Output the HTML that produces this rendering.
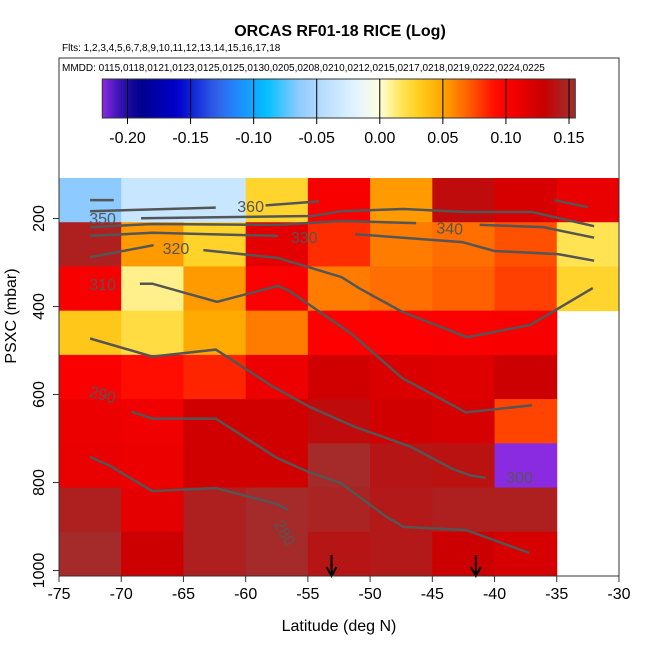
<!DOCTYPE html>
<html><head><meta charset="utf-8"><style>
body{margin:0;background:#fff;}
svg{display:block;font-family:"Liberation Sans",sans-serif;}
</style></head><body>
<svg id="chart" width="650" height="650" viewBox="0 0 650 650">
<defs><linearGradient id="cbgrad" x1="0" x2="1" y1="0" y2="0"></linearGradient></defs>
<text x="340" y="36" text-anchor="middle" font-size="16" font-weight="bold">ORCAS RF01-18 RICE (Log)</text>
<text x="62" y="51" font-size="10">Flts: 1,2,3,4,5,6,7,8,9,10,11,12,13,14,15,16,17,18</text>
<g id="cells"></g>
<g id="contours"></g>
<rect x="59" y="58" width="560" height="518" fill="none" stroke="#333" stroke-width="1"/>
<rect x="60" y="59" width="558" height="118" fill="#fff"/>
<text x="62" y="71" font-size="10">MMDD: 0115,0118,0121,0123,0125,0125,0130,0205,0208,0210,0212,0215,0217,0218,0219,0222,0224,0225</text>
<g id="colorbar"></g>
<g id="axes"></g>
<text x="339" y="631" text-anchor="middle" font-size="16">Latitude (deg N)</text>
<text transform="translate(16,316) rotate(-90)" text-anchor="middle" font-size="16">PSXC (mbar)</text>
</svg>
<script>
const lonEdges = [-75,-70,-65,-60,-55,-50,-45,-40,-35,-30];
const presEdges = [100,200,300,400,500,600,700,800,900,1000];
const rice = [
 [-0.065,-0.035,-0.035,0.027,0.104,0.053,0.135,0.122,0.112],
 [0.145,0.053,0.028,0.115,0.083,0.062,0.066,0.074,0.018],
 [0.104,0.010,0.053,0.102,0.062,0.066,0.070,0.078,0.027],
 [0.034,0.022,0.048,0.062,0.100,0.100,0.102,0.104,null],
 [0.102,0.092,0.085,0.110,0.125,0.120,0.118,0.128,null],
 [0.110,0.108,0.125,0.125,0.135,0.125,0.122,0.077,null],
 [0.112,0.110,0.125,0.125,0.150,0.140,0.138,-0.220,null],
 [0.145,0.115,0.145,0.150,0.147,0.142,0.145,0.145,null],
 [0.150,0.128,0.145,0.150,0.140,0.142,0.128,0.122,null]
];
const xTicks = [-75,-70,-65,-60,-55,-50,-45,-40,-35,-30];
const yTicks = [200,400,600,800,1000];
const cbTicks = [-0.20,-0.15,-0.10,-0.05,0.00,0.05,0.10,0.15];
const cbTickLabels = ["-0.20","-0.15","-0.10","-0.05","0.00","0.05","0.10","0.15"];
const arrowLons = [-53.1,-41.5];
const contourLevels = ["360","360","360","360","350","340","340","330","330","320","320","310","300","290","280"];
const contourLons = [
 [-72.5,-70.6],[-72.5,-62.4],[-58.4,-54.1],[-35.2,-32.5],
 [-68.4,-54.7,-52.3,-47.3,-42.3,-37.0,-32.0],
 [-72.5,-67.5,-57.4,-52.3,-46.3],[-41.2,-36.1,-32.0],
 [-72.5,-67.5,-57.4],[-51.2,-42.6,-40.0,-34.9,-32.0],
 [-72.5,-67.4],[-63.4,-57.4,-52.3,-50.9,-47.4,-42.2,-37.1,-32.1],
 [-68.5,-67.5,-62.3,-57.4,-56.5,-51.5,-47.4,-42.3,-37.0],
 [-72.5,-67.5,-62.4,-57.8,-54.9,-51.2,-46.8,-43.3,-41.9,-40.7],
 [-69.2,-67.5,-62.4,-57.5,-55.0,-52.3,-48.7,-47.3,-42.3,-37.2],
 [-72.5,-70.9,-67.5,-62.4,-57.4,-56.6]
];
const contourPres = [
 [150,150],[175,167],[162,153],[150,166],
 [191,186,175,170,177,177,209],
 [211,204,206,197,202],[206,211,235],
 [231,224,231],[227,245,265,272,287],
 [279,252],[263,281,324,349,403,460,432,349],
 [339,339,380,344,355,452,553,630,614],
 [463,504,488,572,617,663,707,759,773,778],
 [628,644,644,733,764,791,866,889,896,948],
 [731,751,808,801,838,851]
];
const contourLabels = [["360",-59.6,207],["350",-71.5,219],["340",-43.6,229],["330",-55.3,238],["320",-65.6,249],["310",-71.5,285],["300",-38.0,478],["290",-71.5,395],["280",-56.9,533]];

const NS='http://www.w3.org/2000/svg';
const svg=document.getElementById('chart');
const x=lon=>59+(lon+75)*12.444;
const yCell=p=>178+(p-100)*0.4422;
const y=p=>178+(p-100)*0.4422;
const yTick=p=>570.5-(1000-p)*0.44;
const cmap=[[-0.22,'#8a2be2'],[-0.205,'#3010b0'],[-0.19,'#00008b'],[-0.16,'#0000cd'],[-0.13,'#3060e8'],[-0.11,'#1e90ff'],[-0.09,'#00bfff'],[-0.065,'#8ccaff'],[-0.045,'#b8dcff'],[-0.02,'#e0f4ff'],[0,'#ffffe0'],[0.015,'#ffe860'],[0.03,'#ffd020'],[0.05,'#ffa500'],[0.07,'#ff6000'],[0.09,'#ff1000'],[0.10,'#ff0000'],[0.13,'#c80000'],[0.15,'#a52a2a']];
function hex(c){return [1,3,5].map(i=>parseInt(c.substr(i,2),16));}
function color(v){
 if(v<=cmap[0][0])return cmap[0][1];
 for(let i=1;i<cmap.length;i++){if(v<=cmap[i][0]){const a=cmap[i-1],b=cmap[i];const t=(v-a[0])/(b[0]-a[0]);const ca=hex(a[1]),cb=hex(b[1]);return 'rgb('+ca.map((c,k)=>Math.round(c+(cb[k]-c)*t)).join(',')+')';}}
 return cmap[cmap.length-1][1];
}
function mk(tag,attrs,parent){const e=document.createElementNS(NS,tag);for(const k in attrs)e.setAttribute(k,attrs[k]);parent.appendChild(e);return e;}
const cells=document.getElementById('cells');
rice.forEach((row,r)=>row.forEach((v,c)=>{
 if(v===null)return;
 const e=mk('rect',{x:x(lonEdges[c]),y:yCell(presEdges[r]),width:x(lonEdges[c+1])-x(lonEdges[c])+0.5,height:yCell(presEdges[r+1])-yCell(presEdges[r])+0.5,fill:color(v)},cells);
 
 
}));
const cg=document.getElementById('contours');
contourLons.forEach((lons,i)=>{
 const pts=lons.map((l,j)=>x(l).toFixed(1)+','+y(contourPres[i][j]).toFixed(1)).join(' ');
 const e=mk('polyline',{points:pts,fill:'none',stroke:'#555','stroke-width':2.5},cg);
 
 
});
contourLabels.forEach(([t,l,py])=>{
 const rot=t==='280'?60:(t==='290'?15:(t==='340'?3:0));
 const e=mk('text',{x:x(l),y:py+5,'font-size':16,fill:'#555','text-anchor':'middle',transform:'rotate('+rot+' '+x(l)+' '+py+')'},cg);
 e.textContent=t;
 
 
});
arrowLons.forEach(l=>{
 const ax=x(l);
 const e=mk('path',{d:`M${ax},555 L${ax},576 M${ax-5},567 L${ax},576 L${ax+5},567`,stroke:'#000','stroke-width':2,fill:'none'},cg);
 
 
});
const cbx=v=>127.5+(v+0.2)/0.35*441.5;
const grad=document.getElementById('cbgrad');
const cb0=-0.22,cb1=0.155;
for(let k=0;k<=60;k++){const v=cb0+(cb1-cb0)*k/60;mk('stop',{offset:(k/60),'stop-color':color(v)},grad);}
const cbg=document.getElementById('colorbar');
const cbRect=mk('rect',{x:cbx(cb0),y:79,width:cbx(cb1)-cbx(cb0),height:39,fill:'url(#cbgrad)',stroke:'#333','stroke-width':1},cbg);


cbTicks.forEach((v,i)=>{
 const ln=mk('line',{x1:cbx(v),x2:cbx(v),y1:79,y2:124,stroke:'#000','stroke-width':1},cbg);
 
 
 const t=mk('text',{x:cbx(v),y:143,'font-size':16,'text-anchor':'middle'},cbg);
 t.textContent=cbTickLabels[i];
 
 
});
const ag=document.getElementById('axes');
xTicks.forEach(v=>{
 const ln=mk('line',{x1:x(v),x2:x(v),y1:576,y2:582,stroke:'#333'},ag);
 
 
 const t=mk('text',{x:x(v),y:599,'font-size':16,'text-anchor':'middle'},ag);
 t.textContent=String(v);
 
 
});
yTicks.forEach(v=>{
 const yy=yTick(v);
 const ln=mk('line',{x1:53,x2:59,y1:yy,y2:yy,stroke:'#333'},ag);
 
 
 const t=mk('text',{x:0,y:0,'font-size':16,'text-anchor':'middle',transform:`translate(44,${yy}) rotate(-90)`},ag);
 t.textContent=String(v);
 
 
});
</script>
</body></html>
